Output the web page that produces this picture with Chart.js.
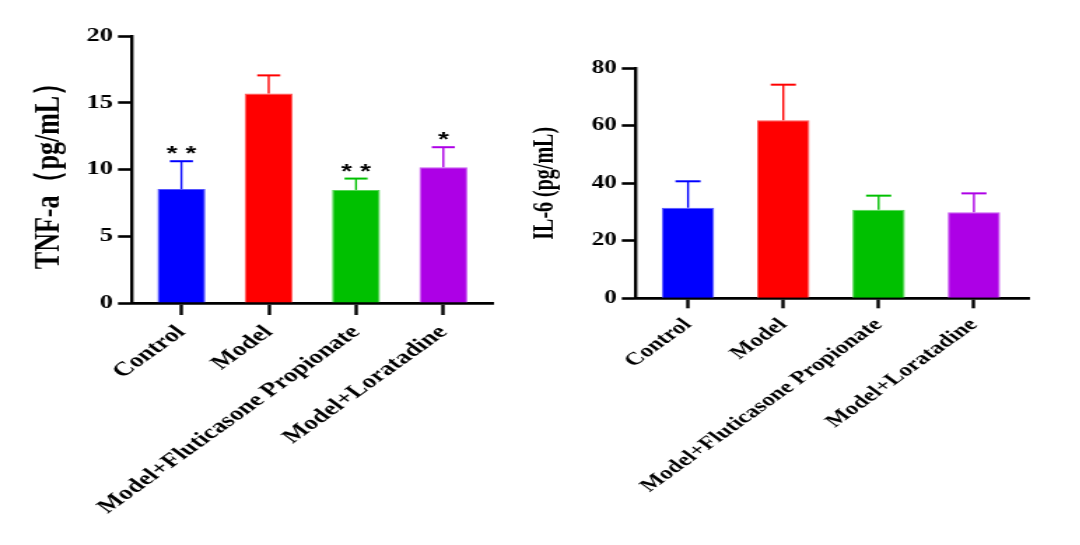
<!DOCTYPE html>
<html>
<head>
<meta charset="utf-8">
<script src="https://cdn.jsdelivr.net/npm/chart.js@4.4.1/dist/chart.umd.min.js"></script>
<style>
  html, body { margin: 0; padding: 0; background: #fff; }
  body { width: 1080px; height: 545px; position: relative; overflow: hidden; }
  canvas { position: absolute; top: 0; }
</style>
</head>
<body>
<!-- the reference is stretched sideways, so each canvas is drawn narrow and widened 1.4x -->
<canvas id="tnf-chart" width="378" height="545" style="left:0;width:529.2px;height:545px"></canvas>
<canvas id="il6-chart" width="393" height="545" style="left:529.2px;width:550.2px;height:545px"></canvas>
<script>
const groups = ['Control', 'Model', 'Model+Fluticasone Propionate', 'Model+Loratadine'];
const barColors = ['#0000ff', '#ff0000', '#00c000', '#ad00e6'];
const barEdges = ['#5555ff', '#ff5555', '#55d555', '#c75af0'];

const tnfMean = [8.53, 15.7, 8.47, 10.17];
const tnfSd = [2.09, 1.35, 0.85, 1.5];
const tnfMarks = ['* *', '', '* *', '*'];
const tnfTicks = [0, 5, 10, 15, 20];

const il6Mean = [31.5, 61.9, 30.8, 29.9];
const il6Sd = [9.2, 12.4, 4.9, 6.6];
const il6Marks = ['', '', '', ''];
const il6Ticks = [0, 20, 40, 60, 80];

const SERIF = '"Liberation Serif", "Times New Roman", serif';

// upward SD bars + significance stars, drawn from the y scale
const errorBarPlugin = {
    id: 'errorBars',
    afterDatasetsDraw(chart) {
        const ctx = chart.ctx;
        const yScale = chart.scales.y;
        const ds = chart.data.datasets[0];
        const meta = chart.getDatasetMeta(0);
        ctx.save();
        meta.data.forEach((bar, i) => {
            const { x, y, width } = bar.getProps(['x', 'y', 'width'], true);
            const top = yScale.getPixelForValue(ds.data[i].y + ds.errors[i]);
            const half = width * 0.24;
            ctx.strokeStyle = ds.backgroundColor[i];
            ctx.lineWidth = 1.4;
            ctx.beginPath();
            ctx.moveTo(x, y);
            ctx.lineTo(x, top);
            ctx.stroke();
            ctx.lineWidth = 2;
            ctx.beginPath();
            ctx.moveTo(x - half, top);
            ctx.lineTo(x + half, top);
            ctx.stroke();
            if (ds.marks[i]) {
                ctx.fillStyle = '#000';
                ctx.font = 'bold 20px "Liberation Sans", Arial, sans-serif';
                ctx.textAlign = 'center';
                ctx.textBaseline = 'alphabetic';
                ctx.fillText(ds.marks[i], x, top - 1);
            }
        });
        ctx.restore();
    }
};

function makeBarChart(canvasId, cfg) {
    const ctx = document.getElementById(canvasId).getContext('2d');
    return new Chart(ctx, {
        type: 'bar',
        data: {
            datasets: [{
                data: cfg.means.map((v, i) => ({ x: i, y: v })),
                errors: cfg.sds,
                marks: cfg.marks,
                backgroundColor: barColors,
                borderColor: barEdges,
                borderWidth: 1,
                categoryPercentage: 1,
                barPercentage: 0.55
            }]
        },
        options: {
            responsive: false,
            animation: false,
            events: [],
            layout: { padding: { top: cfg.top, right: cfg.right, left: 0, bottom: 0 } },
            plugins: {
                legend: { display: false },
                tooltip: { enabled: false }
            },
            scales: {
                x: {
                    type: 'linear',
                    min: cfg.xMin,
                    max: cfg.xMax,
                    offset: false,
                    afterFit: (scale) => { scale.height = cfg.xHeight; },
                    ticks: {
                        stepSize: 1,
                        includeBounds: false,
                        autoSkip: false,
                        minRotation: 45,
                        maxRotation: 45,
                        padding: 6,
                        color: '#000',
                        font: { family: SERIF, size: cfg.xFont, weight: 'bold' },
                        callback: (value) => groups[value]
                    },
                    grid: {
                        offset: false,
                        drawOnChartArea: false,
                        drawTicks: true,
                        tickLength: cfg.xTickLen,
                        tickWidth: 2.4,
                        color: '#000'
                    },
                    border: { display: true, color: '#000', width: 2.7 }
                },
                y: {
                    min: 0,
                    max: cfg.yTicks[cfg.yTicks.length - 1],
                    afterFit: (scale) => { scale.width = cfg.yWidth; },
                    afterBuildTicks: (scale) => { scale.ticks = cfg.yTicks.map(v => ({ value: v })); },
                    ticks: {
                        padding: 3.5,
                        color: '#000',
                        font: { family: SERIF, size: cfg.yFont, weight: 'bold' }
                    },
                    grid: {
                        drawOnChartArea: false,
                        drawTicks: true,
                        tickLength: 10,
                        tickWidth: 2.6,
                        color: '#000'
                    },
                    border: { display: true, color: '#000', width: 2.4 },
                    title: {
                        display: true,
                        text: cfg.title,
                        color: '#000',
                        font: { family: SERIF, size: cfg.titleFont, weight: 'bold' },
                        padding: { top: cfg.titlePad, bottom: 0 }
                    }
                }
            }
        },
        plugins: [errorBarPlugin]
    });
}

makeBarChart('tnf-chart', {
    means: tnfMean, sds: tnfSd, marks: tnfMarks, yTicks: tnfTicks,
    title: 'TNF-a（pg/mL）',
    top: 36, right: 25.1, xHeight: 242, yWidth: 94.3,
    xMin: -0.566, xMax: 3.579,
    xFont: 19.5, yFont: 19, titleFont: 26, titlePad: 20, xTickLen: 12
});

makeBarChart('il6-chart', {
    means: il6Mean, sds: il6Sd, marks: il6Marks, yTicks: il6Ticks,
    title: 'IL-6 (pg/mL)',
    top: 68.3, right: 36, xHeight: 246.7, yWidth: 76.3,
    xMin: -0.548, xMax: 3.574,
    xFont: 18, yFont: 18, titleFont: 20, titlePad: 0, xTickLen: 10
});
</script>
</body>
</html>
